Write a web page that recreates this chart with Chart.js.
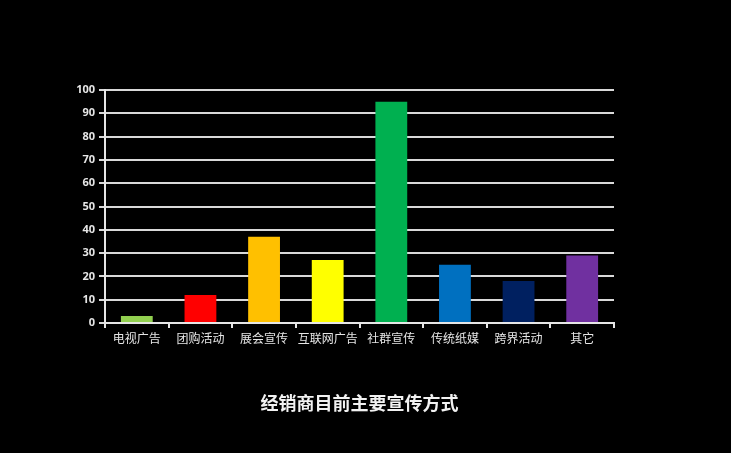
<!DOCTYPE html>
<html>
<head>
<meta charset="utf-8">
<script src="https://cdn.jsdelivr.net/npm/chart.js@4"></script>
<style>
  html, body { margin: 0; padding: 0; background: #000; }
  #wrap { width: 731px; height: 453px; }
</style>
</head>
<body>
<div id="wrap"><canvas id="barChart"></canvas></div>
<script>
const CATEGORIES = ["电视广告", "团购活动", "展会宣传", "互联网广告", "社群宣传", "传统纸媒", "跨界活动", "其它"];
const VALUES = [3, 12, 37, 27, 95, 25, 18, 29];
const COLORS = ["#92D050", "#FF0000", "#FFC000", "#FFFF00", "#00B050", "#0070C0", "#002060", "#7030A0"];
const Y_MAX = 100;
const Y_STEP = 10;
const TITLE = "经销商目前主要宣传方式";

// title sits under the plot, centred on the plot area (not the canvas)
const bottomTitle = {
    id: "bottomTitle",
    afterDraw: chart => {
        const { ctx, chartArea } = chart;
        ctx.save();
        ctx.fillStyle = "#f2f2f2";
        ctx.font = "bold 18px 'Noto Sans CJK SC'";
        ctx.textAlign = "center";
        ctx.textBaseline = "middle";
        ctx.fillText(TITLE, (chartArea.left + chartArea.right) / 2, chartArea.bottom + 80);
        ctx.restore();
    }
};

const context = document.getElementById("barChart").getContext("2d");
const myChart = new Chart(context, {
    type: "bar",
    data: {
        labels: CATEGORIES,
        datasets: [
            {
                data: VALUES,
                backgroundColor: COLORS,
                barPercentage: 0.5,
                categoryPercentage: 1,
            },
        ],
    },
    options: {
        responsive: true,
        maintainAspectRatio: false,
        animation: false,
        layout: { padding: { left: 58, right: 117, top: 90, bottom: 105 } },
        plugins: {
            legend: { display: false },
            tooltip: { enabled: false },
        },
        scales: {
            x: {
                afterFit: s => { s.height = 25; },
                grid: {
                    display: true,
                    drawOnChartArea: false,
                    drawTicks: true,
                    tickLength: 5,
                    color: "#e6e6e6",
                    lineWidth: 2,
                },
                border: { color: "#e6e6e6", width: 2 },
                ticks: {
                    color: "#e6e6e6",
                    padding: 3,
                    maxRotation: 0,
                    minRotation: 0,
                    autoSkip: false,
                    font: { family: "'Noto Sans CJK SC'", size: 12 },
                },
            },
            y: {
                min: 0,
                max: Y_MAX,
                afterFit: s => { s.width = 47; },
                grid: {
                    color: "#d9d9d9",
                    lineWidth: 2,
                    drawTicks: true,
                    tickLength: 6,
                },
                border: { color: "#e6e6e6", width: 2 },
                ticks: {
                    stepSize: Y_STEP,
                    color: "#e6e6e6",
                    padding: 4,
                    font: { family: "'Open Sans'", size: 11, weight: "bold" },
                },
            },
        },
    },
    plugins: [bottomTitle],
});
</script>
</body>
</html>
